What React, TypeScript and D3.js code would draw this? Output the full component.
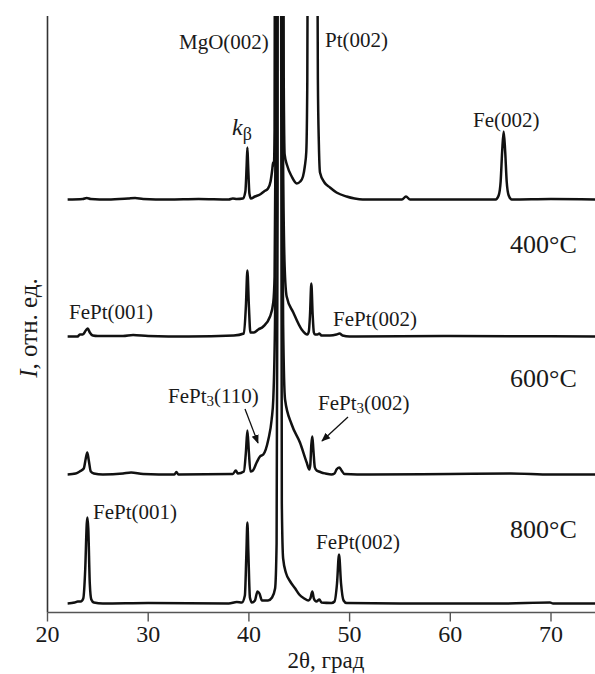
import React from "react";
import * as d3 from "d3";

// 2θ (deg), relative intensity above each curve's own baseline
const asDeposited: [number, number][] = [
  [22, 0], [23.5, 0.5], [23.9, 1.5], [24.3, 0.5], [26, 0], [28, 1], [28.7, 1.5], [29.5, 0.5],
  [32, 0], [35, 0.5], [38, 0], [38.4, 1], [38.8, 0.5], [39.4, 1], [39.65, 8], [39.78, 35],
  [39.85, 52], [39.92, 35], [40.05, 6], [40.2, 1], [40.6, 3], [41.1, 5], [41.5, 8], [41.9, 11],
  [42.15, 18], [42.32, 30], [42.4, 37], [42.48, 34], [42.55, 70], [42.6, 400], [42.64, 3000],
  [43.36, 3000], [43.4, 400], [43.46, 120], [43.55, 45], [43.8, 34], [44.25, 23], [44.75, 16],
  [45.1, 18], [45.37, 23], [45.55, 33], [45.7, 48], [45.8, 120], [45.87, 350], [45.92, 3000],
  [46.7, 3000], [46.76, 350], [46.85, 120], [46.95, 55], [47.06, 27], [47.5, 17], [48.05, 12],
  [48.7, 7], [49.7, 3], [50.5, 1], [51.3, 0], [55.2, 0], [55.6, 3], [56, 0], [60, 0],
  [64.5, 0], [64.8, 4], [65.0, 18], [65.15, 48], [65.3, 68], [65.45, 48], [65.6, 18],
  [65.8, 4], [66.1, 0], [70, 0.5], [74.6, 0],
];

const anneal400: [number, number][] = [
  [22, 0], [23.0, 0], [23.2, 2], [23.5, 2], [23.8, 6], [24.0, 8], [24.2, 4], [24.5, 1],
  [25, 0.5], [27.5, 0.5], [28.5, 1.5], [30, 0.5], [34, 0], [38.5, 1], [39.5, 3], [39.7, 30],
  [39.85, 66], [40.0, 30], [40.15, 4], [40.5, 4], [40.93, 7], [41.43, 10], [42.1, 20],
  [42.42, 34], [42.55, 60], [42.65, 200], [42.72, 3000], [43.28, 3000], [43.38, 200],
  [43.55, 70], [43.75, 40], [44.41, 24], [45.24, 7], [45.8, 2], [45.95, 5], [46.07, 22],
  [46.2, 53], [46.33, 22], [46.45, 4], [46.56, 2], [46.8, 2], [47.0, 3], [47.2, 1],
  [48.05, 1], [48.7, 2], [49.0, 3], [49.3, 1], [50, 0], [60, 0.5], [74.6, 0],
];

const anneal600: [number, number][] = [
  [22, 0], [22.8, 1], [23.2, 3], [23.6, 6], [23.8, 16], [23.95, 22], [24.1, 14], [24.3, 3],
  [24.6, 1], [25.5, 0], [27.5, 1], [28.3, 2], [29.5, 0.5], [32.6, 0], [32.8, 2.5], [33.0, 0],
  [38.4, 0.5], [38.7, 4], [38.9, 1], [39.5, 3], [39.7, 22], [39.85, 44], [40.0, 22], [40.15, 3],
  [40.4, 4], [40.77, 12], [41.1, 18], [41.43, 20], [41.93, 35], [42.26, 55], [42.42, 75],
  [42.6, 160], [42.75, 400], [42.82, 3000], [43.18, 3000], [43.25, 400], [43.4, 150],
  [43.59, 75], [44.25, 50], [45.07, 32], [45.74, 12], [46.0, 5], [46.1, 10], [46.2, 30],
  [46.3, 38], [46.4, 25], [46.55, 7], [46.73, 4], [46.95, 3], [47.2, 2], [47.6, 1], [48.2, 0],
  [48.5, 1], [48.7, 5], [48.97, 7], [49.2, 4], [49.5, 0.5], [52, 0], [60, 0.5], [66, 1],
  [70, 0], [74.6, 0],
];

const anneal800: [number, number][] = [
  [22, 0], [22.7, 1], [23.0, 2], [23.3, 2], [23.55, 5], [23.75, 35], [23.9, 80], [23.97, 86],
  [24.05, 75], [24.2, 20], [24.35, 4], [24.6, 1], [25.5, 0], [30, 0.5], [38, 0], [38.8, 1.5],
  [39.3, 1], [39.6, 8], [39.75, 50], [39.85, 81], [39.95, 50], [40.1, 6], [40.3, 1], [40.6, 3],
  [40.85, 12], [41.05, 10], [41.3, 3], [41.9, 3], [42.3, 6], [42.6, 15], [42.75, 60],
  [42.85, 400], [42.92, 3000], [43.08, 3000], [43.2, 600], [43.27, 100], [43.4, 45],
  [43.7, 30], [44.1, 22], [44.6, 15], [45.0, 9], [45.5, 5], [45.9, 3], [46.1, 5], [46.3, 12],
  [46.45, 5], [46.7, 2], [47.0, 4], [47.2, 1], [48.2, 0.5], [48.5, 2], [48.75, 20],
  [48.95, 49], [49.15, 20], [49.4, 3], [49.7, 0.5], [55, 0], [65, 0], [69.9, 1], [70.2, 0],
  [74.6, 0],
];

const patterns = [asDeposited, anneal400, anneal600, anneal800];
const offsets = [413, 276, 138, 9];
const xTicks = [20, 30, 40, 50, 60, 70];

const temps = [
  { text: "400°C", x: 510, y: 253 },
  { text: "600°C", x: 510, y: 387 },
  { text: "800°C", x: 510, y: 538 },
];

const peakLabels = [
  { main: "MgO(002)", x: 179, y: 49 },
  { main: "Pt(002)", x: 325, y: 47 },
  { main: "Fe(002)", x: 473, y: 127 },
  { main: "FePt(001)", x: 69, y: 319 },
  { main: "FePt(002)", x: 333, y: 326 },
  { main: "FePt(001)", x: 93, y: 519 },
  { main: "FePt(002)", x: 316, y: 549 },
];

const pt3Labels = [
  { tail: "(110)", x: 168, y: 403 },
  { tail: "(002)", x: 318, y: 410 },
];

const arrows = [
  { x1: 245, y1: 409, x2: 258, y2: 443 },
  { x1: 348, y1: 417, x2: 322, y2: 441 },
];

export default function App() {
  const W = 595;
  const H = 674;
  const left = 47.5;
  const top = 16;
  const bottom = 612.5;

  const x = d3.scaleLinear().domain([20, 70]).range([left, 551]);
  const y = d3.scaleLinear().domain([0, bottom - top]).range([bottom, top]);

  const font = "'Liberation Serif', 'Times New Roman', serif";

  return (
    <svg width={W} height={H} style={{ position: "absolute", left: 0, top: 0, background: "#fff" }}>
      <defs>
        <clipPath id="plot">
          <rect x={left} y={top} width={W - left} height={bottom - top} />
        </clipPath>
        <marker id="head" viewBox="0 0 10 10" refX="9" refY="5" markerWidth="9" markerHeight="9" orient="auto" markerUnits="userSpaceOnUse">
          <path d="M0,1 L10,5 L0,9 z" fill="#111" />
        </marker>
      </defs>

      <g clipPath="url(#plot)">
        {patterns.map((pts, i) => {
          const line = d3
            .line<[number, number]>()
            .x((d) => x(d[0]))
            .y((d) => y(d[1] + offsets[i]))
            .curve(d3.curveMonotoneX);
          return (
            <path key={i} d={line(pts) || ""} fill="none" stroke="#111" strokeWidth={2.5} strokeLinejoin="round" />
          );
        })}
      </g>

      {/* axes */}
      <line x1={left} x2={left} y1={top} y2={bottom} stroke="#333" strokeWidth={1.6} />
      <line x1={left} x2={W} y1={bottom} y2={bottom} stroke="#555" strokeWidth={1.6} />
      {xTicks.map((t) => (
        <g key={t} transform={`translate(${x(t)},${bottom})`}>
          <line y2={9} stroke="#555" strokeWidth={1.4} />
          <text y={29.5} textAnchor="middle" fontFamily={font} fontSize={24} fill="#1a1a1a">
            {t}
          </text>
        </g>
      ))}
      <text x={326} y={668} textAnchor="middle" fontFamily={font} fontSize={23} fill="#1a1a1a">
        2θ, град
      </text>
      <text transform="translate(37,328) rotate(-90)" textAnchor="middle" fontFamily={font} fontSize={25} fill="#1a1a1a">
        <tspan fontStyle="italic">I</tspan>, отн. ед.
      </text>

      {/* annotations */}
      {peakLabels.map((l, i) => (
        <text key={i} x={l.x} y={l.y} fontFamily={font} fontSize={21} fill="#1a1a1a">
          {l.main}
        </text>
      ))}
      {pt3Labels.map((l, i) => (
        <text key={i} x={l.x} y={l.y} fontFamily={font} fontSize={21} fill="#1a1a1a">
          FePt<tspan fontSize={15} dy={3}>3</tspan>
          <tspan dy={-3}>{l.tail}</tspan>
        </text>
      ))}
      {arrows.map((a, i) => (
        <line key={i} x1={a.x1} y1={a.y1} x2={a.x2} y2={a.y2} stroke="#111" strokeWidth={1.3} markerEnd="url(#head)" />
      ))}
      <text x={232} y={135} fontFamily={font} fontSize={24} fill="#1a1a1a">
        <tspan fontStyle="italic">k</tspan>
        <tspan fontSize={18} dy={5}>β</tspan>
      </text>
      {temps.map((t) => (
        <text key={t.text} x={t.x} y={t.y} fontFamily={font} fontSize={26} fill="#1a1a1a">
          {t.text}
        </text>
      ))}
    </svg>
  );
}
